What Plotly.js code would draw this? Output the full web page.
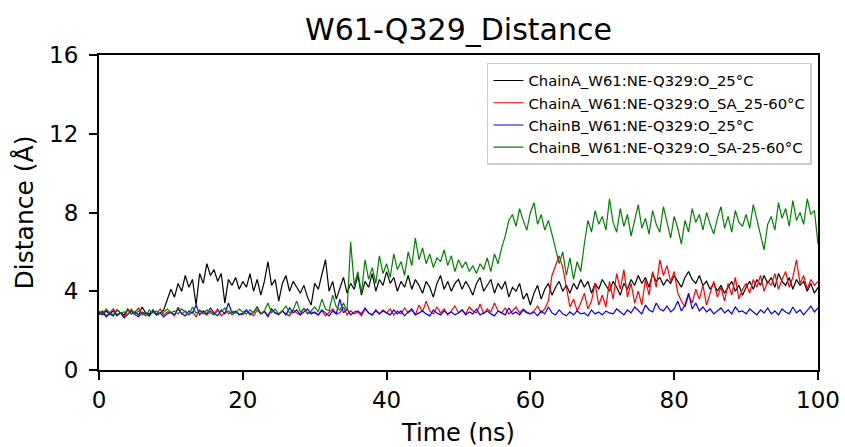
<!DOCTYPE html>
<html>
<head>
<meta charset="utf-8">
<script src="https://cdn.plot.ly/plotly-3.0.1.min.js"></script>
<style>html,body{margin:0;padding:0;background:#fff;}#chart{width:845px;height:447px;}</style>
</head>
<body>
<div id="chart"></div>
<script>
// Time axis (ns), sampled every 0.5 ns
const timeNs = [0,0.5,1,1.5,2,2.5,3,3.5,4,4.5,5,5.5,6,6.5,7,7.5,8,8.5,9,9.5,
10,10.5,11,11.5,12,12.5,13,13.5,14,14.5,15,15.5,16,16.5,17,17.5,18,18.5,19,19.5,
20,20.5,21,21.5,22,22.5,23,23.5,24,24.5,25,25.5,26,26.5,27,27.5,28,28.5,29,29.5,
30,30.5,31,31.5,32,32.5,33,33.5,34,34.5,35,35.5,36,36.5,37,37.5,38,38.5,39,39.5,
40,40.5,41,41.5,42,42.5,43,43.5,44,44.5,45,45.5,46,46.5,47,47.5,48,48.5,49,49.5,
50,50.5,51,51.5,52,52.5,53,53.5,54,54.5,55,55.5,56,56.5,57,57.5,58,58.5,59,59.5,
60,60.5,61,61.5,62,62.5,63,63.5,64,64.5,65,65.5,66,66.5,67,67.5,68,68.5,69,69.5,
70,70.5,71,71.5,72,72.5,73,73.5,74,74.5,75,75.5,76,76.5,77,77.5,78,78.5,79,79.5,
80,80.5,81,81.5,82,82.5,83,83.5,84,84.5,85,85.5,86,86.5,87,87.5,88,88.5,89,89.5,
90,90.5,91,91.5,92,92.5,93,93.5,94,94.5,95,95.5,96,96.5,97,97.5,98,98.5,99,99.5,100];

const seriesNames = [
  "ChainA_W61:NE-Q329:O_25°C",
  "ChainA_W61:NE-Q329:O_SA_25-60°C",
  "ChainB_W61:NE-Q329:O_25°C",
  "ChainB_W61:NE-Q329:O_SA-25-60°C"
];

const chainA25 = [2.95,2.8,3.0,2.85,2.75,3.05,2.9,2.8,3.1,2.85,2.95,2.8,3.2,2.9,2.85,3.0,2.8,2.9,3.05,
3.6,4.1,3.7,4.4,4.0,4.8,4.2,4.6,3.3,4.9,4.4,5.4,4.8,5.1,4.5,4.9,3.4,4.6,4.3,4.7,4.1,4.5,
4.2,4.9,4.0,4.6,3.8,4.5,5.5,4.3,4.6,3.5,4.4,4.8,4.0,4.5,4.2,3.9,4.3,3.7,3.3,4.4,
4.1,4.8,5.6,4.0,4.5,3.6,4.2,4.7,3.9,4.4,4.1,4.8,3.8,4.5,4.2,4.9,4.0,4.6,4.3,5.0,
4.4,4.7,4.0,4.5,4.2,4.8,4.1,4.6,4.3,3.9,4.5,4.2,3.7,4.4,4.8,4.1,4.5,4.0,4.4,4.6,
4.1,4.5,4.2,3.8,4.4,4.7,4.0,4.3,4.6,3.9,4.4,4.1,4.5,3.7,4.2,4.0,4.4,3.6,3.9,3.3,
3.9,4.3,3.6,4.1,4.4,3.8,4.2,4.5,4.0,4.3,3.9,4.4,4.1,4.6,4.2,4.5,3.9,4.4,4.1,4.6,
4.3,4.0,4.5,4.2,3.8,4.4,4.1,4.6,4.3,4.8,4.4,4.7,4.2,4.9,4.5,4.7,4.3,4.6,4.4,4.8,
4.5,4.2,4.7,5.0,4.6,4.4,4.8,4.3,4.5,4.1,4.4,4.0,4.3,3.9,4.2,4.5,4.0,4.3,3.8,4.2,
4.5,4.1,4.6,4.3,4.8,4.4,4.7,4.2,4.9,4.5,4.3,4.7,4.1,4.6,4.3,4.5,4.0,4.4,3.9,4.2];

const chainASA = [2.85,3.0,2.75,2.95,3.1,2.8,2.9,2.7,3.05,2.85,2.95,3.15,2.8,2.9,2.75,3.0,2.85,3.1,2.8,2.95,
2.9,2.75,3.2,2.85,3.0,2.8,2.95,2.7,3.05,2.9,2.8,3.0,2.85,3.1,2.75,2.9,3.0,2.8,2.95,2.85,
2.8,3.0,2.9,2.75,3.05,2.85,2.95,2.7,3.1,2.9,2.8,3.0,2.85,2.75,3.05,2.9,2.8,3.15,2.85,2.95,
2.9,2.8,3.0,2.75,2.95,3.1,2.85,2.9,3.2,2.8,3.0,2.85,2.95,2.75,3.1,2.9,2.8,3.0,2.85,3.05,
2.9,3.1,2.8,3.0,2.85,3.15,2.9,3.05,2.8,3.3,2.95,3.5,3.0,2.85,3.2,2.9,3.1,2.8,3.0,3.25,
2.9,3.05,2.85,3.2,3.0,2.9,3.35,2.85,3.1,2.95,3.4,3.0,2.9,3.15,2.85,3.0,3.2,2.9,3.1,2.95,
2.85,3.0,3.25,2.9,3.1,3.5,4.8,5.3,5.8,5.2,4.2,3.2,3.6,3.0,3.4,3.9,3.1,3.5,4.4,3.3,
3.8,3.2,4.5,3.6,4.9,4.1,5.1,3.7,4.4,3.4,4.0,3.3,4.6,3.8,5.0,4.2,5.6,4.8,5.3,4.5,
5.0,3.9,3.5,3.2,3.8,3.4,4.1,3.6,4.3,3.3,3.9,4.5,3.7,4.2,3.5,4.4,3.8,4.7,3.6,4.1,
4.4,3.9,4.6,4.2,4.8,4.0,4.5,4.3,4.9,4.1,4.6,5.0,4.2,4.7,5.6,4.4,4.8,4.1,4.6,4.3,4.5];

const chainB25 = [2.8,2.95,2.7,2.85,3.0,2.75,2.9,2.65,2.85,3.0,2.8,2.7,2.95,2.85,2.75,3.05,2.8,2.9,2.7,2.85,
2.95,2.8,3.1,2.85,2.75,3.0,2.9,3.3,2.8,3.0,2.85,3.15,2.9,2.75,3.05,2.85,3.4,2.9,3.0,2.8,
2.9,3.05,2.8,2.95,3.2,2.85,3.0,2.75,3.1,2.9,2.85,3.0,2.8,3.15,2.9,3.05,2.8,2.95,3.1,2.85,
2.95,2.8,3.05,2.9,2.75,3.0,2.85,3.6,2.9,3.1,2.8,2.95,3.0,2.85,3.15,2.9,2.8,3.05,2.85,3.0,
2.9,2.8,3.05,2.85,3.0,2.75,2.95,3.1,2.8,2.9,3.0,2.85,2.75,3.05,2.9,2.8,3.0,2.85,2.95,2.8,
2.9,3.05,2.8,2.95,2.85,3.1,2.8,2.9,3.0,2.85,2.75,3.0,2.9,2.8,3.15,2.85,2.95,2.8,3.05,2.9,
2.85,2.95,2.75,3.0,2.85,3.2,2.9,2.8,3.05,2.85,2.75,2.95,2.8,3.0,2.85,2.9,2.75,3.05,2.85,2.95,
2.8,3.0,2.9,2.85,3.1,2.95,2.8,3.05,2.9,3.2,3.0,2.85,3.3,3.05,2.95,3.4,3.1,3.0,3.25,2.95,
3.1,3.5,3.0,3.3,3.9,3.1,3.4,3.0,3.2,2.95,3.1,2.85,3.0,3.15,2.9,3.05,2.85,3.2,2.95,3.0,
2.85,3.1,2.95,2.8,3.05,2.9,3.15,2.85,3.0,2.8,3.1,2.95,2.85,3.2,2.9,3.05,2.8,3.0,3.25,2.95,3.15];

const chainBSA = [3.0,2.85,3.1,2.9,2.8,3.05,2.9,2.95,2.8,3.1,2.85,3.0,2.9,2.75,3.05,2.9,3.0,2.85,2.95,3.1,
2.9,3.0,2.85,3.1,2.95,2.8,3.2,2.9,3.0,2.85,3.05,2.9,2.8,3.0,2.95,3.15,2.85,3.0,2.9,3.1,
2.95,2.85,3.05,2.9,3.2,2.85,3.0,3.4,2.9,3.1,2.85,3.0,3.25,2.9,3.05,3.5,2.95,3.1,2.9,3.0,
3.2,2.95,3.6,3.1,3.0,3.8,3.2,3.05,3.4,3.0,6.5,4.3,5.0,3.9,5.6,4.6,5.2,4.4,5.8,4.9,
5.4,4.7,5.9,5.1,5.5,4.8,6.0,5.3,6.7,5.6,6.2,5.4,5.9,5.2,5.7,5.5,6.1,5.3,5.8,5.0,
5.6,5.2,5.5,5.0,5.3,4.9,5.4,5.1,5.7,5.0,5.9,5.4,6.2,6.8,7.6,7.9,7.3,8.2,7.6,7.1,
8.0,8.5,7.4,7.9,7.1,7.6,6.9,6.2,5.4,6.0,4.8,5.7,4.6,5.5,5.0,6.4,7.6,7.0,8.1,7.4,
7.8,7.1,8.7,7.5,7.0,8.2,7.3,7.9,6.8,7.6,8.4,7.2,7.7,6.9,8.1,7.4,7.0,8.3,7.5,6.7,
7.8,7.2,6.4,7.6,7.0,8.2,7.5,7.9,7.1,8.0,7.4,6.9,7.7,8.3,7.2,7.8,7.0,8.1,7.5,7.3,
7.9,7.2,8.4,7.6,6.9,6.1,7.4,7.8,7.1,8.5,7.7,8.2,7.3,8.6,7.6,8.0,7.4,8.7,7.9,8.1,6.4];

const seriesValues = [chainA25, chainASA, chainB25, chainBSA];
const seriesColors = ["#000000", "#ff0000", "#0000ff", "#008000"];

const xTicks = [0, 20, 40, 60, 80, 100];
const yTicks = [0, 4, 8, 12, 16];

const FONT = "DejaVu Sans, sans-serif";

const traces = seriesNames.map((name, i) => ({
  type: "scatter",
  mode: "lines",
  name: name,
  x: timeNs,
  y: seriesValues[i],
  line: {color: seriesColors[i], width: 1.2}
}));

const layout = {
  width: 845,
  height: 447,
  margin: {l: 99, r: 27, t: 55, b: 77},
  paper_bgcolor: "#ffffff",
  plot_bgcolor: "#ffffff",
  font: {family: FONT, color: "#000000"},
  showlegend: true,
  title: {
    text: "W61-Q329_Distance",
    font: {family: FONT, size: 30, color: "#000000"},
    x: 0.5, xref: "paper",
    y: 0.935, yref: "container", yanchor: "middle"
  },
  xaxis: {
    range: [0, 100],
    tickvals: xTicks,
    ticktext: xTicks.map(String),
    ticks: "outside", ticklen: 8, tickwidth: 2, tickcolor: "#000000",
    showline: true, linewidth: 2, linecolor: "#000000", mirror: true,
    showgrid: false, zeroline: false,
    tickfont: {family: FONT, size: 23, color: "#000000"},
    title: {text: "Time (ns)", font: {family: FONT, size: 24, color: "#000000"}, standoff: 13}
  },
  yaxis: {
    range: [0, 16],
    tickvals: yTicks,
    ticktext: yTicks.map(String),
    ticks: "outside", ticklen: 8, tickwidth: 2, tickcolor: "#000000",
    ticklabelstandoff: 6,
    showline: true, linewidth: 2, linecolor: "#000000", mirror: true,
    showgrid: false, zeroline: false,
    tickfont: {family: FONT, size: 23, color: "#000000"},
    title: {text: "Distance (Å)", font: {family: FONT, size: 25, color: "#000000"}, standoff: 8}
  },
  legend: {
    x: 0.9916, xanchor: "right",
    y: 0.975, yanchor: "top",
    bgcolor: "rgba(255,255,255,0.9)",
    bordercolor: "#cccccc", borderwidth: 1.5,
    font: {family: FONT, size: 14.8, color: "#000000"},
    itemwidth: 30,
    tracegroupgap: 0
  }
};

Plotly.newPlot("chart", traces, layout, {displayModeBar: false, staticPlot: true});
</script>
</body>
</html>
